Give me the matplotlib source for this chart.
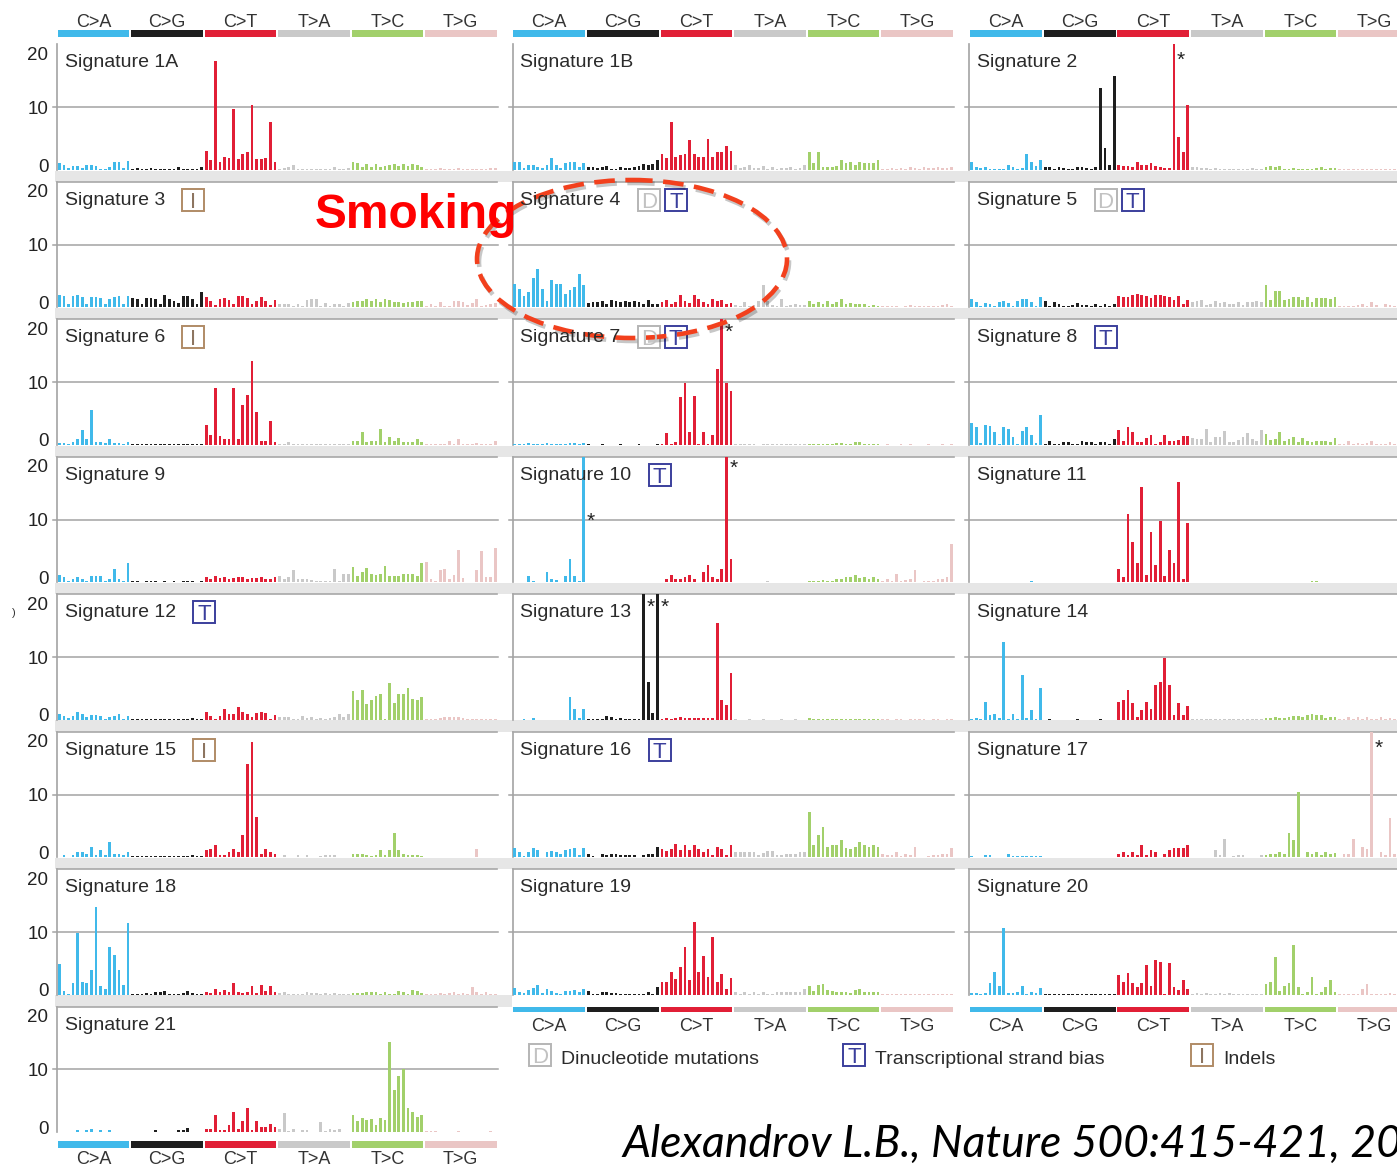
import matplotlib
matplotlib.use("Agg")
import matplotlib.pyplot as plt
from matplotlib.patches import Rectangle, Ellipse
import numpy as np

plt.rcParams['font.family'] = ['Liberation Sans', 'DejaVu Sans']

# ---------------------------------------------------------------- data
mutation_types = ['C>A', 'C>G', 'C>T', 'T>A', 'T>C', 'T>G']
type_colors = ['#40b9ea', '#1e1e1e', '#e11f36', '#c9c9c9', '#a2d06b', '#eac6c5']
y_tick_values = [0, 10, 20]

# percentage of mutations in each of the 96 trinucleotide contexts
# (16 contexts per substitution type, in the order of mutation_types)
sig_1A = [1.1, 0.8, 0.3, 0.6, 0.7, 0.3, 0.8, 0.8, 0.6, 0.2, 0.2, 0.5, 1.3, 1.2, 0.3, 1.5,
          0.2, 0.3, 0.1, 0.2, 0.3, 0.1, 0.2, 0.1, 0.2, 0.2, 0.4, 0.1, 0.2, 0.2, 0.2, 0.4,
          3.0, 1.6, 17.3, 1.3, 2.1, 1.9, 9.7, 1.8, 2.6, 2.8, 10.4, 1.8, 1.7, 1.9, 7.6, 1.3,
          0.2, 0.3, 0.5, 0.8, 0.1, 0.1, 0.1, 0.1, 0.1, 0.1, 0.1, 0.1, 0.5, 0.2, 0.2, 0.3,
          1.3, 1.1, 0.5, 1.0, 0.5, 0.9, 0.5, 0.6, 0.8, 1.0, 0.6, 1.0, 0.7, 0.9, 0.8, 0.5,
          0.1, 0.1, 0.2, 0.3, 0.1, 0.1, 0.1, 0.3, 0.1, 0.1, 0.1, 0.1, 0.2, 0.2, 0.3, 0.3]
sig_1B = [1.3, 1.2, 0.3, 0.8, 0.8, 0.5, 0.3, 0.8, 1.9, 0.8, 0.3, 1.1, 1.3, 1.3, 0.5, 1.1,
          0.5, 0.5, 0.3, 0.4, 0.6, 0.2, 0.2, 0.5, 0.3, 0.3, 0.5, 0.6, 0.9, 0.8, 1.0, 1.6,
          2.6, 1.9, 7.6, 2.1, 2.4, 2.6, 4.7, 2.6, 2.1, 2.1, 5.0, 2.1, 2.8, 2.9, 3.9, 3.1,
          0.8, 0.3, 0.5, 0.8, 0.3, 0.3, 0.6, 0.2, 0.5, 0.2, 0.3, 0.3, 0.5, 0.2, 0.3, 0.8,
          2.8, 1.1, 2.9, 0.5, 0.4, 0.5, 0.6, 1.6, 1.1, 1.3, 0.8, 1.3, 1.1, 1.1, 1.1, 1.6,
          0.2, 0.2, 0.3, 0.2, 0.3, 0.2, 0.4, 0.3, 0.2, 0.5, 0.3, 0.3, 0.5, 0.3, 0.3, 0.5]
sig_2 = [1.2, 0.5, 0.3, 0.5, 0.2, 0.1, 0.1, 0.2, 0.8, 0.5, 0.2, 0.3, 2.6, 1.3, 0.6, 1.6,
         0.5, 0.4, 0.2, 0.4, 0.3, 0.2, 0.2, 0.4, 0.4, 0.3, 0.2, 0.4, 13.1, 3.5, 0.8, 14.9,
         0.8, 0.6, 0.6, 0.4, 1.3, 0.8, 0.8, 1.1, 0.6, 0.5, 0.3, 0.3, 24.0, 5.2, 2.8, 10.4,
         0.4, 0.4, 0.3, 0.3, 0.2, 0.3, 0.2, 0.2, 0.2, 0.2, 0.2, 0.1, 0.1, 0.3, 0.1, 0.2,
         0.4, 0.6, 0.4, 0.6, 0.2, 0.2, 0.3, 0.2, 0.2, 0.2, 0.2, 0.3, 0.4, 0.2, 0.3, 0.3,
         0.1, 0.1, 0.1, 0.1, 0.1, 0.1, 0.1, 0.1, 0.1, 0.1, 0.1, 0.1, 0.1, 0.1, 0.1, 0.1]
sig_3 = [2.0, 1.9, 0.6, 1.8, 2.0, 1.7, 0.6, 1.6, 1.7, 1.5, 0.5, 1.4, 1.7, 1.8, 0.6, 1.9,
         1.5, 1.3, 0.6, 1.5, 1.5, 1.3, 0.6, 2.0, 1.3, 1.0, 0.7, 1.8, 1.8, 1.4, 0.5, 2.5,
         1.6, 1.0, 0.4, 1.4, 1.5, 1.2, 0.5, 1.9, 1.8, 1.5, 0.5, 1.1, 1.6, 1.1, 0.4, 1.2,
         0.6, 0.5, 0.6, 0.3, 0.5, 0.3, 1.2, 1.4, 1.4, 0.3, 0.7, 0.3, 0.6, 0.6, 0.3, 0.7,
         0.8, 1.0, 1.1, 1.3, 1.0, 1.4, 0.9, 1.3, 1.2, 0.8, 0.8, 0.7, 0.8, 0.8, 1.0, 1.0,
         0.2, 0.6, 0.3, 0.8, 0.2, 0.3, 1.0, 1.1, 0.8, 0.4, 0.7, 1.3, 0.3, 0.4, 0.5, 0.7]
sig_4 = [3.7, 2.9, 1.9, 2.5, 4.7, 6.1, 3.0, 1.0, 4.4, 3.8, 3.8, 2.1, 2.8, 3.2, 5.3, 3.6,
         0.7, 0.8, 0.8, 1.0, 0.6, 1.2, 1.0, 0.9, 1.0, 0.9, 1.0, 0.8, 0.6, 1.2, 0.6, 0.6,
         0.8, 1.2, 0.6, 0.9, 2.0, 1.1, 0.7, 2.0, 1.3, 0.8, 0.6, 1.3, 1.0, 1.2, 0.5, 0.7,
         0.4, 0.3, 0.9, 0.3, 0.4, 1.0, 3.5, 1.1, 0.4, 0.3, 1.3, 0.3, 0.4, 0.6, 0.4, 0.4,
         1.0, 0.5, 0.8, 0.6, 1.1, 0.5, 0.9, 1.3, 0.6, 0.7, 0.5, 0.5, 0.5, 0.3, 0.4, 0.3,
         0.2, 0.2, 0.2, 0.3, 0.1, 0.2, 0.4, 0.2, 0.2, 0.2, 0.3, 0.2, 0.2, 0.4, 0.6, 0.3]
sig_5 = [1.3, 0.9, 0.3, 0.7, 0.6, 0.3, 0.9, 1.0, 0.7, 0.3, 1.1, 1.3, 1.3, 0.9, 0.3, 1.7,
         1.0, 0.3, 0.8, 0.6, 0.2, 0.3, 0.4, 0.7, 0.4, 0.4, 0.2, 0.6, 0.2, 0.6, 0.3, 0.6,
         1.9, 1.6, 1.6, 2.0, 2.2, 2.0, 1.8, 1.5, 2.0, 2.0, 1.8, 1.6, 1.2, 1.9, 0.6, 1.2,
         0.8, 1.1, 1.2, 0.4, 0.6, 1.1, 0.7, 0.9, 0.6, 0.5, 0.8, 0.4, 0.8, 0.8, 1.1, 0.9,
         3.5, 1.2, 2.7, 2.6, 1.2, 1.4, 1.7, 1.7, 1.2, 1.6, 0.9, 1.5, 1.5, 1.5, 1.4, 1.6,
         0.2, 0.3, 0.3, 0.2, 0.4, 0.6, 0.3, 0.8, 0.4, 0.1, 0.6, 0.4, 0.3, 0.4, 0.3, 0.3]
sig_6 = [0.3, 0.3, 0.2, 0.4, 0.9, 2.3, 0.9, 5.6, 0.4, 0.5, 0.3, 0.9, 0.3, 0.3, 0.2, 0.5,
         0.1, 0.2, 0.1, 0.1, 0.1, 0.1, 0.1, 0.1, 0.1, 0.1, 0.2, 0.1, 0.2, 0.1, 0.1, 0.1,
         3.1, 1.6, 9.1, 1.4, 1.0, 1.0, 9.1, 1.0, 6.4, 7.9, 13.4, 5.3, 0.7, 0.7, 3.8, 0.4,
         0.2, 0.1, 0.4, 0.1, 0.1, 0.1, 0.1, 0.1, 0.1, 0.1, 0.2, 0.1, 0.2, 0.1, 0.1, 0.1,
         0.7, 0.6, 2.0, 0.4, 0.7, 0.6, 2.5, 0.5, 1.2, 0.6, 1.1, 0.5, 0.5, 0.5, 0.9, 0.4,
         0.2, 0.1, 0.1, 0.2, 0.1, 0.6, 0.2, 0.9, 0.1, 0.1, 0.1, 0.3, 0.1, 0.2, 0.1, 0.6]
sig_7 = [0.1, 0.1, 0.1, 0.3, 0.1, 0.1, 0.1, 0.3, 0.1, 0.1, 0.1, 0.1, 0.3, 0.3, 0.1, 0.3,
         0.1, 0.0, 0.0, 0.1, 0.0, 0.0, 0.0, 0.1, 0.0, 0.0, 0.0, 0.1, 0.0, 0.0, 0.0, 0.1,
         0.1, 1.9, 0.1, 0.5, 7.6, 9.9, 2.0, 7.8, 0.1, 2.0, 0.1, 1.6, 12.1, 25.0, 9.9, 8.6,
         0.1, 0.1, 0.1, 0.1, 0.1, 0.0, 0.1, 0.1, 0.1, 0.1, 0.1, 0.1, 0.1, 0.1, 0.1, 0.1,
         0.1, 0.1, 0.1, 0.1, 0.1, 0.1, 0.3, 0.3, 0.1, 0.1, 0.5, 0.5, 0.2, 0.2, 0.2, 0.1,
         0.0, 0.1, 0.0, 0.0, 0.1, 0.0, 0.1, 0.0, 0.0, 0.0, 0.1, 0.0, 0.0, 0.1, 0.0, 0.1]
sig_8 = [3.5, 2.8, 0.3, 3.1, 3.0, 2.1, 0.2, 2.8, 2.6, 1.2, 0.1, 2.2, 2.8, 1.6, 0.3, 4.8,
         0.2, 0.6, 0.2, 0.1, 0.5, 0.5, 0.1, 0.2, 0.6, 0.5, 0.5, 0.1, 0.4, 0.4, 0.1, 1.0,
         2.3, 0.7, 2.9, 2.1, 0.5, 0.4, 1.1, 1.6, 0.2, 0.5, 1.6, 0.7, 0.7, 0.8, 1.4, 1.5,
         1.1, 1.0, 1.0, 2.6, 0.5, 1.3, 1.3, 2.2, 0.4, 0.5, 0.8, 1.3, 1.9, 0.9, 0.7, 2.4,
         1.8, 0.8, 1.0, 2.0, 0.6, 1.0, 1.2, 0.5, 1.1, 0.7, 0.5, 0.6, 0.6, 0.6, 0.4, 1.1,
         0.1, 0.2, 0.6, 0.1, 0.3, 0.1, 0.3, 0.6, 0.1, 0.2, 0.2, 0.5, 0.1, 0.3, 0.3, 0.2]
sig_9 = [1.2, 0.8, 0.2, 0.5, 0.9, 0.6, 0.2, 1.0, 1.1, 1.0, 0.2, 0.6, 2.1, 0.6, 0.2, 3.1,
         0.2, 0.2, 0.1, 0.2, 0.2, 0.2, 0.1, 0.2, 0.1, 0.2, 0.1, 0.2, 0.2, 0.2, 0.1, 0.3,
         0.8, 0.5, 1.1, 0.7, 0.9, 0.6, 0.7, 0.8, 0.9, 0.5, 0.7, 0.7, 0.9, 0.6, 0.6, 0.9,
         1.1, 0.6, 0.8, 1.9, 0.6, 0.5, 0.6, 0.4, 0.2, 0.2, 0.2, 0.2, 2.1, 0.2, 1.4, 1.4,
         2.4, 1.1, 1.7, 2.3, 1.4, 1.2, 1.4, 2.6, 1.0, 1.0, 1.0, 1.3, 1.4, 1.4, 1.0, 3.1,
         3.3, 0.5, 0.3, 2.0, 2.1, 0.5, 1.2, 5.1, 0.7, 0.1, 0.1, 1.9, 5.0, 0.8, 0.8, 5.5]
sig_10 = [0.0, 0.1, 0.1, 1.0, 0.3, 0.1, 0.1, 1.7, 0.5, 0.4, 0.1, 1.1, 3.8, 1.1, 0.3, 26.0,
          0.0, 0.1, 0.0, 0.0, 0.0, 0.1, 0.0, 0.0, 0.0, 0.0, 0.0, 0.0, 0.0, 0.1, 0.0, 0.1,
          0.1, 0.5, 1.2, 0.6, 0.5, 0.8, 1.2, 0.6, 0.1, 1.6, 2.7, 0.9, 0.5, 2.1, 26.0, 3.8,
          0.0, 0.0, 0.0, 0.0, 0.1, 0.0, 0.0, 0.2, 0.0, 0.0, 0.0, 0.0, 0.0, 0.0, 0.0, 0.0,
          0.3, 0.3, 0.3, 0.4, 0.2, 0.3, 0.5, 0.6, 0.8, 0.8, 1.2, 0.7, 0.8, 0.5, 0.9, 0.6,
          0.3, 0.5, 0.2, 1.3, 0.3, 0.4, 0.5, 1.9, 0.1, 0.2, 0.3, 0.3, 0.5, 0.6, 0.8, 6.1]
sig_11 = [0.0, 0.0, 0.0, 0.0, 0.0, 0.0, 0.0, 0.0, 0.0, 0.0, 0.0, 0.0, 0.0, 0.2, 0.0, 0.0,
          0.0, 0.0, 0.0, 0.0, 0.0, 0.0, 0.0, 0.0, 0.0, 0.0, 0.0, 0.0, 0.0, 0.0, 0.0, 0.0,
          2.1, 0.8, 10.9, 6.4, 3.1, 15.2, 1.2, 8.1, 2.7, 9.8, 1.0, 5.2, 3.1, 16.0, 0.6, 9.5,
          0.0, 0.0, 0.0, 0.0, 0.0, 0.0, 0.0, 0.0, 0.0, 0.0, 0.0, 0.0, 0.0, 0.0, 0.0, 0.0,
          0.0, 0.0, 0.0, 0.0, 0.0, 0.0, 0.0, 0.0, 0.0, 0.0, 0.2, 0.2, 0.0, 0.0, 0.0, 0.0,
          0.0, 0.0, 0.0, 0.0, 0.0, 0.0, 0.0, 0.0, 0.0, 0.0, 0.0, 0.0, 0.0, 0.0, 0.0, 0.0]
sig_12 = [0.9, 0.6, 0.3, 0.6, 1.2, 0.9, 0.4, 0.8, 0.7, 0.6, 0.2, 0.4, 0.6, 1.0, 0.2, 0.6,
          0.2, 0.2, 0.1, 0.2, 0.2, 0.1, 0.1, 0.1, 0.1, 0.1, 0.1, 0.1, 0.2, 0.3, 0.1, 0.1,
          1.2, 0.6, 0.2, 0.6, 1.8, 1.0, 1.0, 2.0, 1.2, 1.0, 0.4, 1.1, 1.3, 1.1, 0.2, 0.8,
          0.5, 0.5, 0.5, 0.2, 0.1, 0.6, 0.3, 0.4, 0.2, 0.3, 0.1, 0.3, 0.4, 1.0, 0.4, 1.0,
          4.6, 3.2, 4.8, 2.5, 3.2, 3.8, 4.1, 0.1, 5.8, 2.7, 4.1, 4.1, 5.1, 3.4, 3.1, 3.6,
          0.1, 0.2, 0.2, 0.3, 0.4, 0.5, 0.4, 0.5, 0.3, 0.1, 0.1, 0.2, 0.2, 0.1, 0.2, 0.2]
sig_13 = [0.0, 0.0, 0.1, 0.0, 0.3, 0.0, 0.0, 0.0, 0.0, 0.0, 0.0, 0.0, 3.6, 1.8, 0.3, 1.8,
          0.1, 0.1, 0.1, 0.1, 0.6, 0.4, 0.2, 0.3, 0.2, 0.1, 0.1, 0.1, 26.0, 6.0, 1.1, 26.0,
          0.1, 0.3, 0.1, 0.3, 0.5, 0.3, 0.3, 0.3, 0.3, 0.3, 0.3, 0.3, 15.4, 3.2, 2.3, 7.5,
          0.1, 0.0, 0.0, 0.1, 0.0, 0.0, 0.1, 0.0, 0.0, 0.0, 0.1, 0.0, 0.0, 0.1, 0.0, 0.0,
          0.3, 0.1, 0.1, 0.1, 0.1, 0.1, 0.1, 0.1, 0.1, 0.1, 0.1, 0.1, 0.1, 0.1, 0.1, 0.1,
          0.1, 0.1, 0.0, 0.1, 0.1, 0.0, 0.1, 0.1, 0.1, 0.1, 0.0, 0.1, 0.1, 0.0, 0.1, 0.1]
sig_14 = [0.2, 0.3, 0.1, 2.9, 0.8, 1.0, 0.3, 12.4, 0.2, 1.0, 0.2, 7.2, 0.3, 1.5, 0.1, 5.1,
          0.0, 0.1, 0.0, 0.0, 0.0, 0.0, 0.0, 0.1, 0.0, 0.0, 0.0, 0.0, 0.1, 0.0, 0.0, 0.0,
          2.9, 3.2, 4.8, 2.7, 0.5, 1.5, 2.9, 1.8, 5.5, 6.1, 9.9, 5.6, 0.7, 2.7, 0.8, 2.2,
          0.1, 0.1, 0.1, 0.1, 0.1, 0.1, 0.1, 0.2, 0.1, 0.1, 0.1, 0.1, 0.1, 0.1, 0.1, 0.1,
          0.3, 0.3, 0.4, 0.3, 0.3, 0.4, 0.6, 0.6, 0.4, 0.7, 1.0, 0.8, 0.8, 0.3, 0.5, 0.5,
          0.1, 0.2, 0.4, 0.1, 0.4, 0.2, 0.5, 0.1, 0.2, 0.4, 0.1, 0.3, 0.1, 0.1, 0.2, 0.3]
sig_15 = [0.1, 0.3, 0.1, 0.4, 0.8, 0.8, 0.5, 1.7, 0.4, 1.1, 0.4, 2.5, 0.6, 0.5, 0.3, 0.8,
          0.2, 0.2, 0.2, 0.2, 0.2, 0.2, 0.2, 0.2, 0.2, 0.2, 0.2, 0.2, 0.2, 0.4, 0.2, 0.2,
          1.1, 1.3, 2.0, 0.4, 0.4, 0.9, 1.3, 0.9, 3.6, 14.9, 18.4, 6.5, 0.5, 1.3, 0.9, 0.6,
          0.1, 0.3, 0.1, 0.1, 0.3, 0.1, 0.3, 0.1, 0.1, 0.2, 0.3, 0.3, 0.3, 0.1, 0.1, 0.1,
          0.5, 0.5, 0.5, 0.3, 0.2, 0.4, 1.1, 0.4, 1.1, 3.8, 1.2, 0.5, 0.3, 0.4, 0.3, 0.2,
          0.1, 0.1, 0.1, 0.1, 0.1, 0.1, 0.1, 0.1, 0.1, 0.1, 0.1, 1.3, 0.1, 0.1, 0.1, 0.1]
sig_16 = [1.5, 0.9, 0.2, 0.8, 1.5, 1.1, 0.1, 0.9, 1.0, 0.9, 0.5, 1.1, 1.3, 1.5, 0.3, 1.5,
          0.5, 0.2, 0.1, 0.6, 0.4, 0.5, 0.6, 0.3, 0.4, 0.4, 0.3, 0.1, 0.4, 0.6, 0.6, 1.7,
          1.3, 1.0, 1.3, 2.2, 1.1, 2.0, 1.2, 2.0, 1.3, 0.8, 1.3, 0.3, 1.7, 1.3, 0.3, 2.0,
          0.8, 0.8, 0.8, 0.8, 0.8, 0.3, 0.7, 1.0, 1.0, 0.3, 0.3, 0.5, 0.5, 0.5, 0.8, 0.8,
          7.2, 1.9, 3.5, 4.9, 1.6, 2.0, 2.0, 2.8, 1.5, 1.3, 1.6, 2.5, 1.9, 1.7, 1.9, 1.7,
          0.5, 0.3, 0.3, 0.8, 0.2, 0.5, 0.3, 1.7, 0.1, 0.1, 0.2, 0.3, 0.3, 0.5, 0.6, 1.5]
sig_17 = [0.2, 0.1, 0.1, 0.3, 0.3, 0.1, 0.1, 0.1, 0.5, 0.2, 0.2, 0.2, 0.2, 0.2, 0.2, 0.2,
          0.1, 0.1, 0.1, 0.1, 0.1, 0.1, 0.1, 0.1, 0.1, 0.1, 0.1, 0.1, 0.1, 0.1, 0.1, 0.1,
          0.6, 0.8, 0.3, 0.8, 0.4, 2.0, 0.3, 1.2, 0.8, 0.1, 0.5, 1.1, 1.5, 1.5, 1.5, 2.0,
          0.1, 0.1, 0.1, 0.1, 0.1, 1.1, 0.4, 2.9, 0.1, 0.2, 0.4, 0.4, 0.1, 0.1, 0.1, 0.4,
          0.4, 0.6, 0.5, 0.8, 0.6, 3.8, 2.8, 10.4, 0.1, 0.9, 0.5, 0.9, 0.4, 0.9, 0.6, 0.7,
          0.1, 0.5, 0.5, 2.9, 0.1, 1.7, 1.3, 25.0, 0.1, 0.8, 0.4, 6.2, 0.5, 0.3, 0.3, 0.8]
sig_18 = [4.9, 0.6, 0.2, 1.9, 9.8, 2.1, 1.9, 4.0, 14.0, 1.4, 0.9, 7.6, 6.4, 4.0, 1.6, 11.4,
          0.2, 0.2, 0.2, 0.3, 0.1, 0.5, 0.5, 0.6, 0.1, 0.1, 0.1, 0.3, 0.6, 0.3, 0.2, 0.2,
          0.5, 0.3, 0.9, 0.4, 0.7, 0.4, 1.9, 0.4, 0.3, 0.5, 1.4, 0.3, 1.6, 0.6, 1.4, 0.5,
          0.3, 0.5, 0.1, 0.1, 0.1, 0.1, 0.5, 0.3, 0.3, 0.2, 0.3, 0.2, 0.3, 0.2, 0.1, 0.2,
          0.3, 0.3, 0.3, 0.5, 0.4, 0.4, 0.2, 0.5, 0.1, 0.1, 0.6, 0.5, 0.1, 0.7, 0.6, 0.3,
          0.1, 0.2, 0.1, 0.3, 0.1, 0.3, 0.5, 0.2, 0.3, 0.1, 1.2, 0.5, 0.2, 0.4, 0.2, 0.2]
sig_19 = [1.1, 0.5, 0.3, 0.7, 1.1, 1.6, 0.3, 0.9, 0.6, 0.3, 0.2, 0.6, 0.6, 0.8, 0.4, 0.9,
          0.6, 0.2, 0.1, 0.5, 0.4, 0.3, 0.3, 0.2, 0.2, 0.2, 0.1, 0.1, 0.1, 0.4, 0.1, 1.2,
          2.1, 2.1, 3.7, 2.5, 4.4, 7.6, 2.3, 11.6, 3.7, 6.2, 2.8, 9.2, 2.0, 3.3, 0.9, 2.6,
          0.4, 0.2, 0.4, 0.2, 0.4, 0.2, 0.4, 0.2, 0.2, 0.4, 0.5, 0.5, 0.5, 0.5, 0.5, 1.0,
          1.4, 0.6, 1.6, 1.7, 0.7, 0.6, 0.5, 0.5, 0.5, 0.3, 0.8, 0.9, 0.4, 0.5, 0.5, 0.5,
          0.1, 0.2, 0.1, 0.1, 0.2, 0.1, 0.1, 0.1, 0.1, 0.1, 0.1, 0.2, 0.1, 0.1, 0.2, 0.1]
sig_20 = [0.3, 0.3, 0.1, 0.3, 1.9, 3.7, 1.4, 10.7, 0.3, 0.3, 0.5, 1.4, 0.1, 0.5, 0.3, 1.1,
          0.1, 0.2, 0.1, 0.1, 0.1, 0.1, 0.1, 0.2, 0.1, 0.1, 0.2, 0.2, 0.1, 0.2, 0.1, 0.1,
          3.1, 2.1, 3.4, 1.9, 1.2, 1.9, 4.8, 1.4, 5.5, 5.2, 0.1, 5.0, 1.2, 0.7, 2.3, 1.0,
          0.1, 0.3, 0.1, 0.3, 0.2, 0.1, 0.3, 0.2, 0.3, 0.1, 0.2, 0.2, 0.1, 0.1, 0.1, 0.1,
          1.8, 2.1, 6.0, 0.6, 1.4, 1.9, 7.9, 1.2, 0.1, 0.4, 2.8, 0.1, 0.5, 1.2, 2.3, 0.4,
          0.1, 0.1, 0.1, 0.1, 0.1, 0.9, 1.7, 0.2, 0.1, 0.2, 0.1, 0.3, 0.1, 0.1, 0.1, 0.1]
sig_21 = [0.1, 0.1, 0.1, 0.1, 0.3, 0.1, 0.3, 0.5, 0.1, 0.3, 0.1, 0.4, 0.1, 0.1, 0.1, 0.1,
          0.1, 0.1, 0.1, 0.1, 0.1, 0.3, 0.1, 0.1, 0.1, 0.1, 0.3, 0.4, 0.7, 0.1, 0.1, 0.1,
          0.6, 0.6, 2.7, 0.3, 0.3, 1.1, 3.2, 0.5, 1.8, 3.8, 0.4, 1.8, 0.9, 0.9, 1.3, 0.9,
          0.6, 3.0, 0.2, 0.5, 0.1, 0.3, 0.3, 0.1, 0.1, 1.6, 0.2, 0.5, 0.3, 0.5, 0.1, 0.1,
          2.7, 1.8, 2.2, 2.0, 2.1, 1.1, 2.2, 2.0, 14.3, 6.8, 9.0, 10.1, 3.9, 3.2, 2.5, 2.7,
          0.2, 0.2, 0.2, 0.1, 0.1, 0.1, 0.1, 0.2, 0.1, 0.1, 0.1, 0.1, 0.1, 0.1, 0.2, 0.1]

# panel grid (rows of three), with per-signature annotations
panel_grid = [
    [('Signature 1A', sig_1A), ('Signature 1B', sig_1B), ('Signature 2', sig_2)],
    [('Signature 3', sig_3), ('Signature 4', sig_4), ('Signature 5', sig_5)],
    [('Signature 6', sig_6), ('Signature 7', sig_7), ('Signature 8', sig_8)],
    [('Signature 9', sig_9), ('Signature 10', sig_10), ('Signature 11', sig_11)],
    [('Signature 12', sig_12), ('Signature 13', sig_13), ('Signature 14', sig_14)],
    [('Signature 15', sig_15), ('Signature 16', sig_16), ('Signature 17', sig_17)],
    [('Signature 18', sig_18), ('Signature 19', sig_19), ('Signature 20', sig_20)],
    [('Signature 21', sig_21)],
]
badges = {
    'Signature 3': ['I'], 'Signature 4': ['D', 'T'], 'Signature 5': ['D', 'T'],
    'Signature 6': ['I'], 'Signature 7': ['D', 'T'], 'Signature 8': ['T'],
    'Signature 10': ['T'], 'Signature 12': ['T'], 'Signature 15': ['I'],
    'Signature 16': ['T'],
}
# bars running off the scale: (context index, height of the star)
off_scale = {
    'Signature 2': [(44, 17.5)], 'Signature 7': [(45, 17.9)],
    'Signature 10': [(15, 9.8), (46, 18.1)],
    'Signature 13': [(28, 17.9), (31, 17.9)], 'Signature 17': [(87, 17.3)],
}
legend_items = [('D', 'Dinucleotide mutations'), ('T', 'Transcriptional strand bias'),
                ('I', 'Indels')]
citation = 'Alexandrov L.B., Nature 500:415-421, 2013'

# ---------------------------------------------------------------- layout (pixels)
W, H = 1397, 1167
fig = plt.figure(figsize=(W / 100, H / 100), dpi=100)


def frac(x, y, w, h):
    return [x / W, 1 - (y + h) / H, w / W, h / H]


col_left = [57.0, 512.5, 969.3]
col_width = [440.5, 441.5, 441.5]
base0, pitch, panel_h = 170.0, 137.47, 125.6
grid_col = '#a3a3a3'
text_col = '#2b2b2b'
badge_style = {'D': ('#b5b5b5', '#c2c2c2'), 'T': ('#3b3f9c', '#3b3f9c'),
               'I': ('#b08b66', '#8d7560')}
tick_label_offset = {0: 1.5, 10: -56.0, 20: -110.0}

bar_colors = np.repeat(type_colors, 16)
xpos = np.arange(96)

overlay = fig.add_axes([0, 0, 1, 1], zorder=20)
overlay.set_xlim(0, W)
overlay.set_ylim(H, 0)
overlay.axis('off')
overlay.patch.set_alpha(0)

under = fig.add_axes([0, 0, 1, 1], zorder=-5)
under.set_xlim(0, W)
under.set_ylim(H, 0)
under.axis('off')

titles = []
for r, row in enumerate(panel_grid):
    base = base0 + pitch * r
    top = base - panel_h
    # grey separator band below the row
    if r < 6:
        under.add_patch(Rectangle((55, base + 0.6), W - 55, 11.4, color='#e6e6e6', lw=0))
    elif r == 6:
        under.add_patch(Rectangle((55, base + 0.6), 512 - 55, 11.4, color='#e6e6e6', lw=0))
    # y-axis values, shown once per row at the left
    for v in y_tick_values:
        overlay.text(48.5, base + tick_label_offset[v], str(v), fontsize=13.5,
                     color='#222222', ha='right', va='baseline')
    for c, (name, vals) in enumerate(row):
        ax = fig.add_axes(frac(col_left[c], top, col_width[c], panel_h), zorder=1)
        ax.bar(xpos, vals, width=0.6, color=bar_colors, linewidth=0, zorder=3)
        ax.set_xlim(-0.5, 95.5)
        ax.set_ylim(0, 20)
        ax.axhline(10, xmin=-0.009, xmax=1, color=grid_col, lw=1.1, zorder=1, clip_on=False)
        for s in ('right', 'bottom'):
            ax.spines[s].set_visible(False)
        ax.spines['left'].set_color(grid_col)
        ax.spines['left'].set_linewidth(1.2)
        if r > 0:
            ax.spines['top'].set_color('#a8a8a8')
            ax.spines['top'].set_linewidth(1.2)
        else:
            ax.spines['top'].set_visible(False)
        ax.set_xticks([])
        ax.set_yticks([])
        for idx, yv in off_scale.get(name, []):
            ax.text(idx + 1.5, yv, '*', fontsize=15, ha='center', va='center',
                    color='#222222', zorder=5)
        t = overlay.text(col_left[c] + 8, top + 23, name, fontsize=14, color=text_col,
                         va='baseline', ha='left')
        titles.append((name, t, top + 23))

# mutation-class colour strips with their labels
strips = [(0, 30.0, 7.0, 'above'), (1, 30.0, 7.0, 'above'), (2, 30.0, 7.0, 'above'),
          (1, 1006.7, 5.3, 'below'), (2, 1006.7, 5.3, 'below'), (0, 1140.7, 7.0, 'below')]
group_centres = np.arange(6) * 16 + 7.5
for c, y, h, side in strips:
    hax = fig.add_axes(frac(col_left[c], y, col_width[c], h), zorder=2)
    hax.bar(group_centres, [1] * 6, width=15.6, color=type_colors, linewidth=0)
    hax.set_xlim(-0.5, 95.5)
    hax.set_ylim(0, 1)
    hax.axis('off')
    for g, lab in enumerate(mutation_types):
        xc = col_left[c] + (group_centres[g] + 0.5) * col_width[c] / 96
        if side == 'above':
            yb = y - 2.7
        else:
            yb = min(y + h + 18.7, 1164.5)
        overlay.text(xc, yb, lab, fontsize=13, color='#333333', ha='center', va='baseline')


def draw_badge(x, yc, letter):
    ec, tc = badge_style[letter]
    overlay.add_patch(Rectangle((x, yc - 11), 22, 22, fill=False, ec=ec, lw=1.4))
    overlay.text(x + 11, yc + 8, letter, ha='center', va='baseline', fontsize=16,
                 color=tc)


fig.canvas.draw()
renderer = fig.canvas.get_renderer()
inv = overlay.transData.inverted()
for name, t, yb in titles:
    if name not in badges:
        continue
    bb = t.get_window_extent(renderer)
    x_end = inv.transform((bb.x1, bb.y0))[0]
    x = x_end + 17
    for letter in badges[name]:
        draw_badge(x, yb - 5, letter)
        x += 27

# legend
for (letter, label), bx in zip(legend_items, [529, 843, 1191]):
    draw_badge(bx, 1055, letter)
    overlay.text(bx + 32, 1064, label, fontsize=14, color=text_col, va='baseline')

# highlight of the tobacco-smoking signature
overlay.add_patch(Ellipse((634, 262), 310, 158, fill=False, ec='#000000', alpha=0.22,
                          lw=3.3, ls=(0, (4.5, 2.3))))
overlay.add_patch(Ellipse((632, 259), 310, 158, fill=False, ec='#f2401d',
                          lw=3.3, ls=(0, (4.5, 2.3))))
overlay.text(315, 228, 'Smoking', fontsize=34.5, fontweight='bold', color='#ff0000',
             va='baseline', ha='left')

overlay.text(13.5, 613, ')', fontsize=8, color='#333333', ha='center', va='center')

overlay.text(622, 1157, citation, fontsize=32, style='italic', color='#000000',
             family=['Lato', 'DejaVu Sans'], va='baseline', ha='left')

fig.savefig('out.png', dpi=100)
